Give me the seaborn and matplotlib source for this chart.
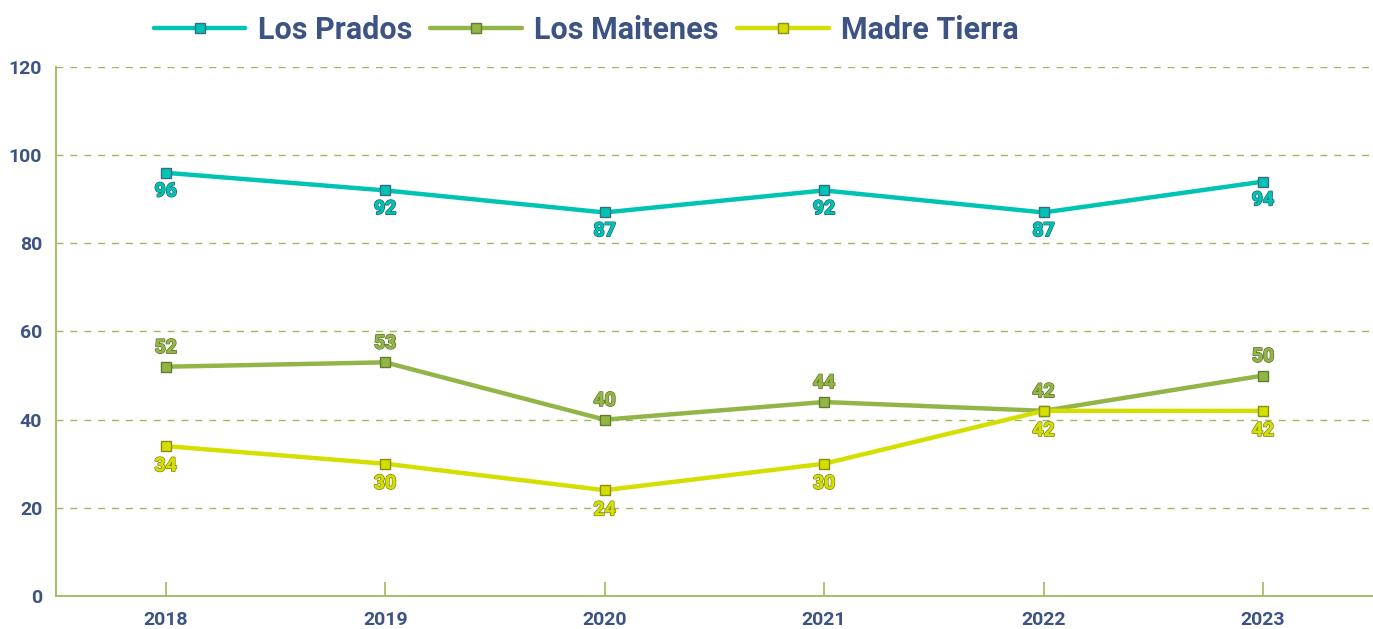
import matplotlib
matplotlib.use("Agg")
import matplotlib.pyplot as plt
import matplotlib.patheffects as pe
import pandas as pd
import seaborn as sns

# ── Datos ──────────────────────────────────────────────
YEARS = [2018, 2019, 2020, 2021, 2022, 2023]
LOS_PRADOS = [96, 92, 87, 92, 87, 94]
LOS_MAITENES = [52, 53, 40, 44, 42, 50]
MADRE_TIERRA = [34, 30, 24, 30, 42, 42]
SERIES = ["Los Prados", "Los Maitenes", "Madre Tierra"]
Y_TICKS = [0, 20, 40, 60, 80, 100, 120]

# ── Estilo ─────────────────────────────────────────────
COLORS = {"Los Prados": "#00c4b3", "Los Maitenes": "#93b548", "Madre Tierra": "#d4de00"}
EDGES = {"Los Prados": "#3a6a8a", "Los Maitenes": "#5f7d2a", "Madre Tierra": "#8a8f10"}
LABEL_EDGE = {"Los Prados": "#1d5f70", "Los Maitenes": "#5a7327", "Madre Tierra": "#7b8410"}
OFFSETS = {"Los Prados": -7, "Los Maitenes": 7, "Madre Tierra": -8}
TEXT_BLUE = "#3d5384"
AXIS_GREEN = "#9bbb59"

df = pd.DataFrame({
    "Año": YEARS * 3,
    "Valor": LOS_PRADOS + LOS_MAITENES + MADRE_TIERRA,
    "Serie": [s for s in SERIES for _ in YEARS],
})

sns.set_theme(style="white")
plt.rcParams["font.family"] = ["Roboto", "DejaVu Sans"]

fig = plt.figure(figsize=(13.73, 6.29), dpi=100)
ax = fig.add_axes([0.0408, 0.0525, 0.959, 0.841])

sns.lineplot(data=df, x="Año", y="Valor", hue="Serie", hue_order=SERIES,
             palette=COLORS, linewidth=3.2, ax=ax, legend=False)

for line, serie in zip(ax.get_lines(), SERIES):
    line.set_marker("s")
    line.set_markersize(7.5)
    line.set_markerfacecolor(COLORS[serie])
    line.set_markeredgecolor(EDGES[serie])
    line.set_markeredgewidth(1.0)
    line.set_zorder(3)

values = {"Los Prados": LOS_PRADOS, "Los Maitenes": LOS_MAITENES, "Madre Tierra": MADRE_TIERRA}
for serie in SERIES:
    off = OFFSETS[serie]
    for x, y in zip(YEARS, values[serie]):
        ax.annotate(str(y), (x, y), xytext=(0, off), textcoords="offset points",
                    ha="center", va="top" if off < 0 else "bottom",
                    fontsize=14, fontweight="bold", color=COLORS[serie],
                    path_effects=[pe.withStroke(linewidth=1.2, foreground=LABEL_EDGE[serie]),
                                  pe.Normal()], zorder=4)

ax.set_xlim(2017.5, 2023.5)
ax.set_ylim(0, 120)
ax.set_yticks(Y_TICKS)
ax.set_xticks(YEARS)
ax.set_xticklabels([str(y) for y in YEARS])
ax.set_xlabel("")
ax.set_ylabel("")

ax.yaxis.grid(True, linestyle=(0, (5, 5)), color=AXIS_GREEN, linewidth=1.0)
ax.xaxis.grid(False)
for side in ["top", "right"]:
    ax.spines[side].set_visible(False)
for side in ["left", "bottom"]:
    ax.spines[side].set_color(AXIS_GREEN)
    ax.spines[side].set_linewidth(1.3)

ax.tick_params(axis="x", bottom=True, direction="in", length=10, width=1.2, color=AXIS_GREEN,
               pad=11, labelsize=14, labelcolor=TEXT_BLUE)
ax.tick_params(axis="y", length=0, pad=10, labelsize=14, labelcolor=TEXT_BLUE)
for lbl in ax.get_xticklabels() + ax.get_yticklabels():
    lbl.set_fontweight("bold")

handles = [plt.Line2D([], [], color=COLORS[s], linewidth=3.2, marker="s", markersize=7.5,
                      markerfacecolor=COLORS[s], markeredgecolor=EDGES[s]) for s in SERIES]
leg = fig.legend(handles, SERIES, loc="upper left", bbox_to_anchor=(0.092, 1.02), ncol=3,
                 frameon=False, handlelength=3.0, columnspacing=0.6, handletextpad=0.4,
                 prop={"size": 22, "weight": "bold"})
for t in leg.get_texts():
    t.set_color(TEXT_BLUE)

fig.savefig("out.png", dpi=100)
